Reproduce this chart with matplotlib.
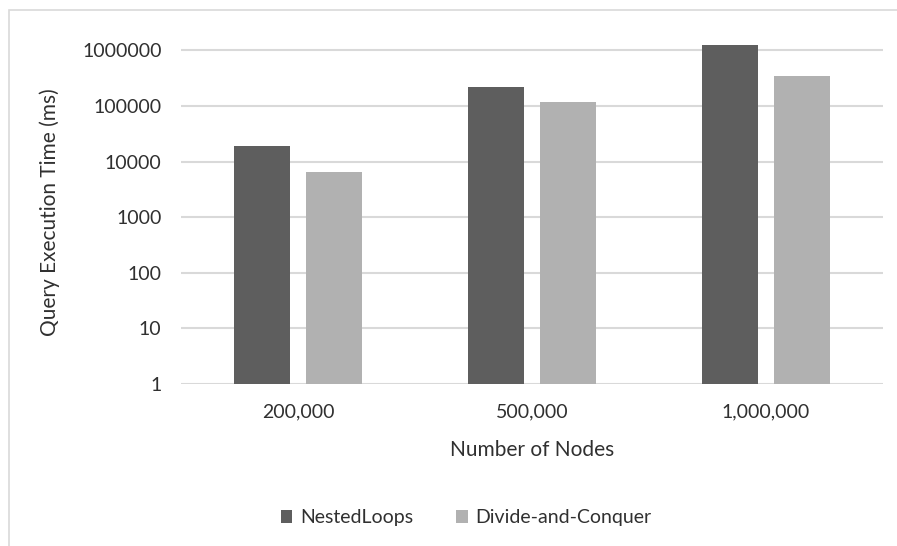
import numpy as np
import matplotlib
matplotlib.use("Agg")
import matplotlib.pyplot as plt
import matplotlib.patches as patch

nodes = ["200,000", "500,000", "1,000,000"]
nested_loops = [19000, 220000, 1250000]
divide_conquer = [6500, 118000, 345000]
series_names = ["NestedLoops", "Divide-and-Conquer"]
y_ticks = [1, 10, 100, 1000, 10000, 100000, 1000000]

plt.rcParams['font.family'] = ['Lato', 'DejaVu Sans']
txt = "#303030"

fig = plt.figure(figsize=(8.97, 5.46), dpi=100)
# outer chart border (cut at right/bottom like the source)
fig.patches.append(patch.Rectangle((9/897, -0.05), 1.1, 1 - 10/546 + 0.05, transform=fig.transFigure,
                                   fill=False, edgecolor="#d9d9d9", linewidth=1.2))

ax = fig.add_axes([181/897, 1 - 384/546, 702/897, (384 - 39.3)/546])
x = np.arange(len(nodes))
w = 0.24
off = 0.155
ax.bar(x - off, nested_loops, width=w, color="#5e5e5e", label=series_names[0], zorder=3)
ax.bar(x + off, divide_conquer, width=w, color="#b1b1b1", label=series_names[1], zorder=3)

ax.set_yscale("log")
ax.set_ylim(1, 10 ** 6.2)
ax.set_xlim(-0.5, len(nodes) - 0.5)
ax.set_yticks(y_ticks)
ax.set_yticklabels([str(v) for v in y_ticks])
ax.minorticks_off()
ax.set_xticks(x)
ax.set_xticklabels(nodes)
ax.grid(axis="y", color="#d9d9d9", linewidth=1.5, zorder=0)
for s in ax.spines.values():
    s.set_visible(False)
ax.tick_params(length=0, labelsize=14, colors=txt)
ax.tick_params(axis="y", pad=14)
ax.tick_params(axis="x", pad=14)

ax.set_ylabel("Query Execution Time (ms)", fontsize=15, color=txt, labelpad=16)
ax.set_xlabel("Number of Nodes", fontsize=15, color=txt, labelpad=14)

fig.legend(loc="center", bbox_to_anchor=(466/897, 1 - 518/546), ncol=2, frameon=False,
           fontsize=14, handlelength=0.6, handleheight=0.6, handletextpad=0.4, columnspacing=2.2,
           labelcolor=txt)

fig.savefig("out.png", dpi=100)
